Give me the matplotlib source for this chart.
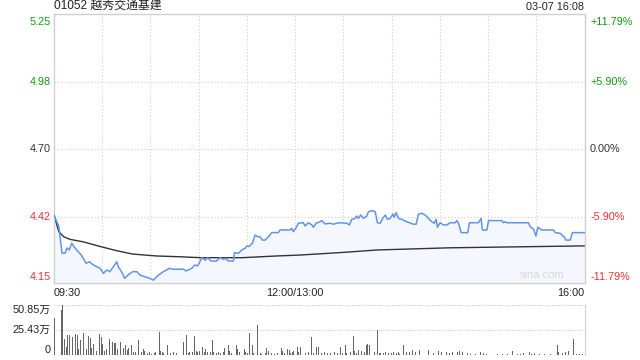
import numpy as np
import matplotlib
matplotlib.use("Agg")
import matplotlib.pyplot as plt

plt.rcParams['font.family'] = ['Liberation Sans', 'Noto Sans CJK SC', 'DejaVu Sans']

TITLE = "01052 越秀交通基建"
STAMP = "03-07 16:08"
PREV_CLOSE = 4.70

# minutes since 09:30 (lunch break removed, 0..330) and price
price_min = [0, 3, 4, 5, 7, 8, 9.5, 11, 12.4, 15, 17, 20, 22, 24.5, 26.6, 28.6, 30.7, 32.8,
             34.8, 37, 39, 40, 42, 44, 46, 49, 51.5, 53.5, 56.6, 59.7, 61.8, 65, 68, 70, 72,
             74, 78.4, 80.5, 82, 83.6, 85.7, 87.7, 89.4, 92, 94, 95.6, 97.7, 101, 103.3, 105.4,
             106.8, 108.5, 111.6, 112.2, 114.7, 116.8, 118.9, 120, 121.3, 123.4, 125.1, 126.8,
             128.2, 129.6, 131.3, 133.4, 135.5, 139.6, 140.6, 146.9, 147.9, 148.9, 150.4, 152,
             155.1, 156.2, 158.2, 160.4, 161.4, 163, 165.5, 166.6, 168.6, 171.7, 173.8, 175.9,
             178, 182.1, 183.8, 185.2, 187.3, 188.3, 189.4, 190.8, 192.5, 194.6, 195.6, 197.7,
             199.8, 201.2, 202.9, 204.5, 206, 207.4, 209.1, 210.8, 211.6, 212.8, 214.3, 216.4,
             219.5, 223.6, 225.3, 226.7, 228.8, 230.9, 232.9, 235, 236.5, 237.7, 238.5, 240.2,
             242.3, 244.4, 246.4, 249.5, 250.6, 251.6, 253.3, 257.4, 258.4, 264, 265.7, 266.5,
             269.3, 270.3, 278.6, 279.6, 280.6, 281.7, 295.1, 296.2, 298.3, 299.8, 301, 303.5,
             310.7, 311.8, 314.9, 317.5, 318.4, 321.1, 322.5, 330]
price = [4.428, 4.380, 4.324, 4.270, 4.270, 4.291, 4.283, 4.311, 4.297, 4.276, 4.262, 4.228,
         4.234, 4.221, 4.214, 4.207, 4.186, 4.200, 4.193, 4.214, 4.234, 4.214, 4.193, 4.165,
         4.179, 4.193, 4.193, 4.179, 4.172, 4.165, 4.158, 4.179, 4.193, 4.200, 4.207, 4.203,
         4.203, 4.204, 4.196, 4.200, 4.207, 4.221, 4.217, 4.251, 4.241, 4.251, 4.237, 4.237,
         4.251, 4.244, 4.248, 4.237, 4.237, 4.272, 4.269, 4.283, 4.290, 4.300, 4.297, 4.311,
         4.345, 4.338, 4.338, 4.324, 4.324, 4.338, 4.355, 4.355, 4.366, 4.366, 4.373, 4.359,
         4.373, 4.394, 4.396, 4.383, 4.396, 4.387, 4.377, 4.394, 4.400, 4.405, 4.391, 4.394,
         4.390, 4.394, 4.396, 4.394, 4.387, 4.410, 4.414, 4.424, 4.414, 4.428, 4.414, 4.424,
         4.442, 4.446, 4.442, 4.396, 4.394, 4.414, 4.428, 4.410, 4.414, 4.432, 4.419, 4.438,
         4.414, 4.410, 4.400, 4.390, 4.390, 4.432, 4.435, 4.428, 4.414, 4.400, 4.394, 4.410,
         4.377, 4.396, 4.387, 4.387, 4.396, 4.396, 4.405, 4.394, 4.355, 4.355, 4.396, 4.396,
         4.414, 4.366, 4.366, 4.405, 4.405, 4.396, 4.400, 4.396, 4.396, 4.380, 4.369, 4.341,
         4.377, 4.366, 4.366, 4.355, 4.352, 4.336, 4.324, 4.324, 4.355, 4.355]

avg_min = [0, 3, 6, 10, 18, 29, 39, 49, 64, 78, 91, 117, 138, 153, 180, 201, 246, 330]
avg_price = [4.428, 4.359, 4.338, 4.327, 4.317, 4.297, 4.280, 4.266, 4.258, 4.255, 4.251,
             4.251, 4.258, 4.262, 4.273, 4.283, 4.292, 4.300]

# volume in 万 shares
vol_min = [0, 2, 4, 5, 6, 7, 8, 9, 11, 13, 14, 15, 16, 18, 20, 21, 22, 23, 24, 26, 28, 29, 30,
           31, 32, 34, 36, 37, 38, 39, 40, 41, 43, 44, 45, 46, 48, 49, 50, 52, 54, 55, 56, 58,
           59, 60, 62, 63, 65, 66, 67, 68, 70, 72, 74, 76, 78, 80, 82, 83, 84, 86, 87, 88, 89,
           90, 92, 93, 94, 95, 97, 98, 99, 101, 102, 103, 105, 106, 108, 109, 110, 113, 114,
           115, 116, 118, 119, 120, 121, 123, 124, 126, 128, 129, 131, 132, 133, 135, 137, 139,
           141, 142, 143, 145, 146, 147, 148, 149, 151, 152, 153, 154, 156, 158, 160, 161, 163,
           164, 166, 168, 170, 172, 174, 176, 178, 179, 181, 182, 184, 186, 187, 188, 189, 191,
           192, 193, 194, 195, 196, 197, 199, 201, 202, 203, 205, 206, 208, 210, 211, 213, 214,
           215, 217, 219, 221, 223, 225, 227, 230, 233, 236, 239, 241, 244, 246, 248, 251, 252,
           254, 257, 259, 262, 265, 267, 269, 273, 276, 279, 282, 285, 288, 290, 292, 296, 297,
           299, 302, 305, 309, 313, 314, 316, 318, 320, 323, 325, 327, 329]
vol = [38, 27, 46, 50.85, 16.6, 8, 20, 20.8, 18.3, 21.8, 20.8, 6, 15.6, 22.8, 6, 19.4, 17.3, 7,
       11.4, 4.5, 21.8, 18.3, 11.4, 4.5, 6, 16.6, 13, 12.5, 12.5, 6, 9, 13, 7, 9.7, 5.5, 7,
       9.7, 3.5, 2.8, 15.6, 3.5, 6, 4.5, 2, 3.5, 1.4, 2, 2.8, 23.5, 4.5, 2.8, 2, 10.4, 2, 2.8,
       2, 2, 13, 20, 2, 3.5, 2.8, 19.4, 4.5, 3.5, 4.5, 8, 3.5, 6, 3.5, 2.8, 15.6, 2.8, 2, 2.8,
       2, 3.5, 7, 9.7, 4.5, 2, 9.7, 6, 2.8, 3.5, 6, 2.8, 2, 22.8, 9.7, 2, 30.4, 2, 1.4, 2, 7,
       4.5, 2, 1.4, 2, 7, 4.5, 2, 6, 5.5, 2, 3.5, 4.5, 8.6, 2.8, 8.6, 6, 2, 2.8, 18, 2, 8,
       8.6, 2, 3.5, 2, 2, 2.8, 2, 8.6, 2, 10.4, 2, 3.5, 19, 4.5, 2, 5.5, 4.5, 2, 2.8, 10.4,
       11.4, 9.7, 2, 2.8, 25, 2, 2, 2, 3.5, 2, 2, 2.8, 2, 3.5, 1.4, 9.7, 2.7, 2.7, 5.2, 2.7,
       5.2, 2, 5.2, 2, 4, 2.7, 3.5, 2, 2.7, 3.5, 4, 2.7, 2, 1.4, 1.4, 2.7, 2, 1.4, 4, 1.4,
       1.4, 1.4, 4, 1.4, 1.4, 2, 3.5, 1.4, 2, 1.4, 1.4, 1.4, 9.7, 3.5, 2, 2.7, 4, 16.6, 1.4,
       1.4, 1.4]
VOL_MAX = 50.85

left_ticks = [5.25, 4.98, 4.70, 4.42, 4.15]
left_labels = ["5.25", "4.98", "4.70", "4.42", "4.15"]
right_labels = ["+11.79%", "+5.90%", "0.00%", "-5.90%", "-11.79%"]
tick_colors = ["#109a10", "#109a10", "#333333", "#ee2d2d", "#ee2d2d"]

GREY = "#d0d0d0"
W, H = 640, 360

fig = plt.figure(figsize=(6.4, 3.6), dpi=100)
ax = fig.add_axes([54 / W, 1 - 283 / H, 530.5 / W, 269 / H])
axv = fig.add_axes([54 / W, 1 - 355 / H, 530.5 / W, 50 / H])

# ---- price panel
ax.fill_between(price_min, price, 4.0, color="#f4f7fe", lw=0, zorder=1)
ax.plot(price_min, price, color="#6193ea", lw=1.1, zorder=3)
ax.plot(avg_min, avg_price, color="#333333", lw=1.0, zorder=2)

ax.set_xlim(0, 330)
ax.set_ylim(4.146, 5.262)
for m in range(30, 330, 30):
    ax.axvline(m, color=GREY, lw=0.8, ls=(0, (1, 2)), zorder=0)
for v in left_ticks[1:4]:
    ax.axhline(v, color=GREY, lw=0.8, ls=(0, (1, 2)), zorder=0)
ax.set_xticks([])
ax.set_yticks([])
for s in ax.spines.values():
    s.set_color(GREY)
    s.set_linewidth(1)

for i, (v, lab, rlab, c) in enumerate(zip(left_ticks, left_labels, right_labels, tick_colors)):
    va = "center"
    if i == 0:
        va = "top"
    elif i == 4:
        va = "bottom"
    ax.annotate(lab, xy=(0, v), xycoords=("axes fraction", "data"), xytext=(-2.5, 0),
                textcoords="offset points", ha="right", va=va, fontsize=7.8, color=c)
    ax.annotate(rlab, xy=(1, v), xycoords=("axes fraction", "data"), xytext=(4, 0),
                textcoords="offset points", ha="left", va=va, fontsize=7.8, color=c)

ax.text(0.0, 1.006, TITLE, transform=ax.transAxes, ha="left", va="bottom",
        fontsize=8.6, color="#222222")
ax.text(1.0, 1.006, STAMP, transform=ax.transAxes, ha="right", va="bottom",
        fontsize=7.8, color="#222222")
ax.text(0.962, 0.012, "sina.com", transform=ax.transAxes, ha="right", va="bottom",
        fontsize=8, color="#d8d8d8")

ax.text(0.0, -0.02, "09:30", transform=ax.transAxes, ha="left", va="top", fontsize=7.8,
        color="#222222")
ax.text(150 / 330, -0.02, "12:00/13:00", transform=ax.transAxes, ha="center", va="top",
        fontsize=7.8, color="#222222")
ax.text(1.0, -0.02, "16:00", transform=ax.transAxes, ha="right", va="top", fontsize=7.8,
        color="#222222")

# ---- volume panel
axv.bar(vol_min, vol, width=0.6, color="#666666", align="center", zorder=2)
axv.set_xlim(0 - 0.5, 330)
axv.set_ylim(0, VOL_MAX)
axv.axhline(VOL_MAX, color=GREY, lw=0.8, ls=(0, (1, 1)), zorder=0)
axv.axhline(VOL_MAX / 2, color=GREY, lw=0.8, ls=(0, (1, 1)), zorder=0)
axv.set_xticks([])
axv.set_yticks([])
for k in ["left", "top", "bottom"]:
    axv.spines[k].set_visible(False)
axv.spines["right"].set_color(GREY)

vol_labels = [("50.85万", VOL_MAX, "top"), ("25.43万", VOL_MAX / 2, "center"), ("0", 0, "bottom")]
for lab, v, va in vol_labels:
    axv.annotate(lab, xy=(0, v), xycoords=("axes fraction", "data"), xytext=(-2.5, 0),
                 textcoords="offset points", ha="right", va=va, fontsize=7.8, color="#222222")

fig.savefig("out.png", dpi=100)
